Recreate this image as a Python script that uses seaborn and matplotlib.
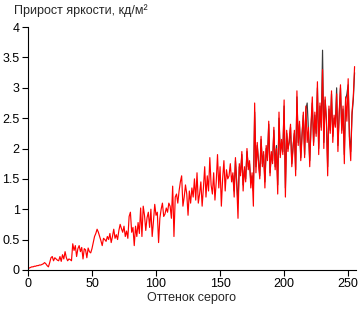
import numpy as np
import pandas as pd
import matplotlib
matplotlib.use("Agg")
import matplotlib.pyplot as plt
import seaborn as sns

# — Прирост яркости, красная кривая (0..255) —
red_vals = [
    0.02, 0.03, 0.04, 0.05, 0.05, 0.06, 0.06, 0.07, 0.07, 0.08, 0.08, 0.09, 0.10, 0.12, 0.10, 0.07,
    0.05, 0.12, 0.20, 0.22, 0.15, 0.20, 0.18, 0.16, 0.15, 0.22, 0.14, 0.25, 0.18, 0.30, 0.20, 0.15,
    0.18, 0.17, 0.15, 0.43, 0.32, 0.40, 0.22, 0.35, 0.40, 0.30, 0.37, 0.18, 0.35, 0.33, 0.20, 0.36,
    0.30, 0.28, 0.35, 0.45, 0.55, 0.60, 0.67, 0.62, 0.55, 0.48, 0.40, 0.52, 0.50, 0.47, 0.55, 0.50,
    0.60, 0.45, 0.55, 0.67, 0.52, 0.58, 0.50, 0.65, 0.75, 0.68, 0.62, 0.72, 0.55, 0.64, 0.52, 0.88,
    0.95, 0.62, 0.70, 0.40, 0.72, 0.55, 0.78, 0.60, 1.02, 0.55, 1.05, 0.90, 0.65, 0.86, 0.95, 0.70,
    1.00, 0.55, 0.80, 1.08, 0.90, 0.95, 0.45, 0.85, 1.00, 1.10, 0.88, 0.92, 1.02, 0.95, 1.10, 1.05,
    0.85, 1.38, 0.55, 1.20, 1.25, 1.10, 1.30, 1.45, 1.55, 1.05, 1.20, 1.40, 1.25, 0.90, 1.30, 1.10,
    1.35, 1.20, 1.50, 1.15, 1.60, 1.10, 1.25, 1.45, 1.05, 1.35, 1.70, 1.20, 1.55, 1.30, 1.85, 1.40,
    1.25, 1.60, 1.15, 1.45, 1.90, 1.35, 1.70, 1.05, 1.50, 1.80, 1.30, 1.65, 1.50, 1.55, 1.75, 1.45,
    1.60, 1.20, 1.85, 1.40, 0.85, 1.75, 1.55, 1.95, 1.30, 1.70, 1.45, 2.00, 1.65, 1.80, 1.35, 1.60,
    1.05, 2.75, 1.60, 2.10, 1.75, 1.50, 2.20, 1.70, 1.95, 1.35, 2.05, 1.80, 2.45, 1.55, 1.95, 1.75,
    2.35, 1.65, 2.00, 1.25, 2.60, 1.85, 2.15, 1.90, 2.80, 1.20, 2.30, 1.95, 2.15, 2.40, 1.70, 2.00,
    2.30, 1.55, 2.95, 2.05, 2.45, 1.80, 2.20, 2.60, 1.85, 2.70, 2.10, 2.35, 1.70, 2.40, 2.85, 2.05,
    2.60, 2.20, 3.10, 1.90, 2.75, 2.30, 3.30, 2.00, 2.85, 2.45, 1.55, 2.70, 2.25, 2.95, 2.10, 2.55,
    2.35, 2.90, 1.95, 2.60, 3.05, 2.25, 2.70, 1.75, 2.85, 2.45, 3.15, 2.15, 1.80, 2.60, 2.85, 3.35,
]

# — Тёмная кривая, видна только в правой части (160..255) —
dark_start = 160
dark_vals = [
    1.55, 1.30, 1.80, 1.45, 1.10, 1.70, 1.60, 1.90, 1.40, 1.65, 1.50, 1.95, 1.70, 1.75, 1.45, 1.55,
    1.30, 2.60, 1.70, 2.05, 1.80, 1.55, 2.15, 1.75, 1.90, 1.45, 2.00, 1.85, 2.40, 1.60, 1.90, 1.80,
    2.30, 1.70, 2.05, 1.40, 2.50, 1.90, 2.10, 1.95, 2.70, 1.35, 2.25, 2.00, 2.10, 2.35, 1.75, 2.05,
    2.25, 1.65, 2.85, 2.10, 2.40, 1.85, 2.25, 2.55, 1.90, 2.65, 2.75, 2.30, 1.80, 2.35, 2.75, 2.10,
    2.55, 2.25, 3.00, 2.00, 2.70, 2.35, 3.62, 2.10, 2.80, 2.50, 1.70, 2.65, 2.30, 2.90, 2.20, 2.50,
    2.40, 3.00, 2.05, 2.55, 3.00, 2.30, 2.65, 1.90, 2.80, 2.90, 3.05, 2.20, 1.95, 2.55, 2.80, 3.25,
]

x_ticks = [0, 50, 100, 150, 200, 250]
y_ticks = [0, 0.5, 1, 1.5, 2, 2.5, 3, 3.5, 4]
y_tick_labels = ["0", "0.5", "1", "1.5", "2", "2.5", "3", "3.5", "4"]

df_red = pd.DataFrame({"x": np.arange(len(red_vals)), "y": red_vals})
df_dark = pd.DataFrame({"x": np.arange(dark_start, dark_start + len(dark_vals)), "y": dark_vals})

sns.set_style("ticks")
plt.rcParams['font.family'] = ['Liberation Sans', 'DejaVu Sans']

fig = plt.figure(figsize=(3.58, 3.12), dpi=100)
ax = fig.add_axes([0.078, 0.135, 0.916, 0.778])

sns.lineplot(data=df_dark, x="x", y="y", ax=ax, color="#3a3a3a", lw=0.85)
sns.lineplot(data=df_red, x="x", y="y", ax=ax, color="#ff0000", lw=0.85)

ax.set_xlim(0, 256)
ax.set_ylim(0, 4)
ax.set_xticks(x_ticks)
ax.set_yticks(y_ticks)
ax.set_yticklabels(y_tick_labels)
ax.tick_params(labelsize=9, length=4, width=0.8, colors="black", pad=2)
for s in ["left", "bottom"]:
    ax.spines[s].set_linewidth(0.8)
    ax.spines[s].set_color("black")
sns.despine(ax=ax)

ax.set_xlabel("Оттенок серого", fontsize=9, labelpad=1)
ax.set_ylabel("")
fig.text(0.04, 0.965, "Прирост яркости, кд/м²", fontsize=9, va="center", ha="left")

fig.savefig("out.png", dpi=100, facecolor="white")
